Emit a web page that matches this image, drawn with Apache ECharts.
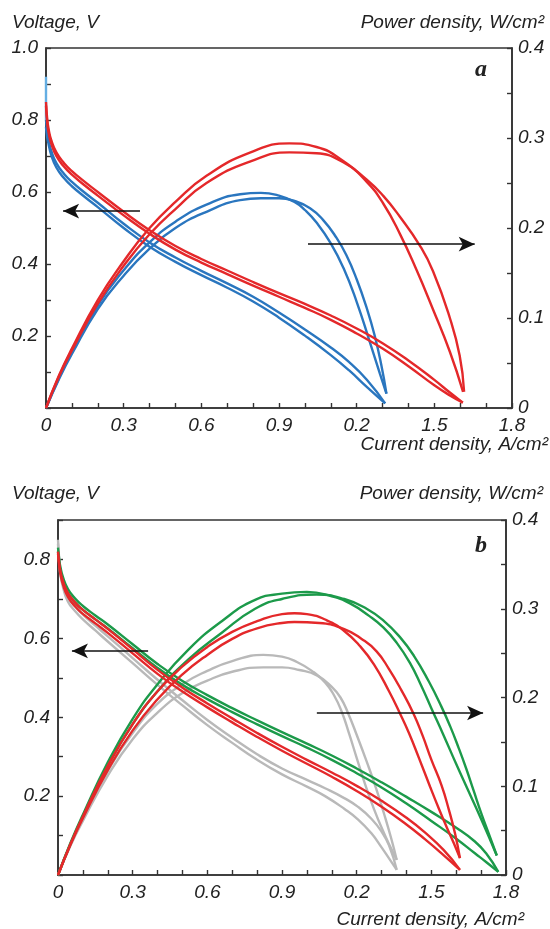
<!DOCTYPE html>
<html>
<head>
<meta charset="utf-8">
<script src="https://cdn.jsdelivr.net/npm/echarts@6/dist/echarts.min.js"></script>
<style>
  html, body { margin: 0; padding: 0; background: #fff; }
  #chart { width: 550px; height: 929px; }
</style>
</head>
<body>
<div id="chart"></div>
<script>
// x tick labels as printed on the figure (the 1.2 tick reads "0.2")
var xTickLabels = ['0', '0.3', '0.6', '0.9', '0.2', '1.5', '1.8'];

// ---- panel a : [current density, value] ----
var aBlueOcv = [[0,0.92],[0,0.8]];
var aBlueVolt1 = [[0,0.8],[0.005,0.765],[0.01,0.745],[0.02,0.715],[0.04,0.68],[0.07,0.65],[0.1,0.628],[0.15,0.598],[0.2,0.57],[0.3,0.512],[0.4,0.46],[0.5,0.418],[0.6,0.381],[0.7,0.346],[0.8,0.309],[0.9,0.265],[1.0,0.218],[1.1,0.168],[1.17,0.128],[1.24,0.078],[1.31,0.013]];
var aBlueVolt2 = [[0,0.78],[0.005,0.75],[0.01,0.733],[0.02,0.703],[0.04,0.668],[0.07,0.638],[0.1,0.616],[0.15,0.586],[0.2,0.558],[0.3,0.5],[0.4,0.448],[0.5,0.406],[0.6,0.369],[0.7,0.334],[0.8,0.296],[0.9,0.251],[1.0,0.201],[1.1,0.147],[1.17,0.105],[1.24,0.058],[1.31,0.013]];
var aRedVolt1 = [[0,0.85],[0.005,0.8],[0.01,0.775],[0.02,0.745],[0.04,0.71],[0.07,0.68],[0.1,0.658],[0.15,0.628],[0.2,0.6],[0.3,0.545],[0.4,0.494],[0.5,0.45],[0.6,0.414],[0.7,0.382],[0.8,0.35],[0.9,0.319],[1.0,0.289],[1.1,0.257],[1.2,0.221],[1.3,0.18],[1.4,0.132],[1.5,0.078],[1.56,0.043],[1.61,0.015]];
var aRedVolt2 = [[0,0.84],[0.005,0.79],[0.01,0.765],[0.02,0.735],[0.04,0.7],[0.07,0.67],[0.1,0.648],[0.15,0.618],[0.2,0.59],[0.3,0.535],[0.4,0.484],[0.5,0.44],[0.6,0.404],[0.7,0.372],[0.8,0.34],[0.9,0.309],[1.0,0.278],[1.1,0.245],[1.2,0.207],[1.3,0.165],[1.4,0.116],[1.5,0.063],[1.56,0.035],[1.61,0.015]];
var aBluePow1 = [[0,0],[0.05,0.033],[0.1,0.062],[0.2,0.114],[0.3,0.153],[0.4,0.184],[0.5,0.207],[0.62,0.226],[0.75,0.2375],[0.83,0.239],[0.9,0.236],[0.96,0.229],[1.0,0.22],[1.045,0.206],[1.1,0.183],[1.15,0.155],[1.2,0.118],[1.25,0.074],[1.29,0.038],[1.315,0.016]];
var aBluePow2 = [[0,0],[0.05,0.032],[0.1,0.06],[0.2,0.11],[0.3,0.147],[0.4,0.177],[0.5,0.2],[0.62,0.218],[0.75,0.231],[0.83,0.233],[0.9,0.233],[0.96,0.23],[1.02,0.222],[1.07,0.209],[1.12,0.19],[1.16,0.17],[1.2,0.143],[1.24,0.11],[1.27,0.08],[1.295,0.048],[1.315,0.016]];
var aRedPow1 = [[0,0],[0.05,0.036],[0.1,0.066],[0.2,0.12],[0.3,0.163],[0.4,0.2],[0.5,0.229],[0.62,0.258],[0.79,0.284],[0.94,0.294],[1.045,0.29],[1.148,0.2745],[1.238,0.2515],[1.302,0.2275],[1.367,0.1935],[1.431,0.1535],[1.495,0.1095],[1.56,0.0625],[1.611,0.018]];
var aRedPow2 = [[0,0],[0.05,0.035],[0.1,0.064],[0.2,0.116],[0.3,0.158],[0.4,0.193],[0.5,0.221],[0.62,0.25],[0.79,0.274],[0.94,0.284],[1.045,0.283],[1.148,0.273],[1.238,0.254],[1.302,0.236],[1.367,0.2125],[1.444,0.1805],[1.495,0.152],[1.56,0.1],[1.598,0.058],[1.615,0.018]];

// ---- panel b ----
var bGrayVolt1 = [[0,0.85],[0.005,0.8],[0.01,0.77],[0.02,0.74],[0.04,0.705],[0.07,0.68],[0.1,0.66],[0.15,0.632],[0.2,0.605],[0.3,0.55],[0.4,0.495],[0.5,0.443],[0.6,0.393],[0.7,0.348],[0.8,0.306],[0.9,0.27],[1.0,0.241],[1.073,0.22],[1.15,0.195],[1.207,0.172],[1.26,0.142],[1.3,0.11],[1.33,0.075],[1.361,0.013]];
var bGrayVolt2 = [[0,0.84],[0.005,0.79],[0.01,0.76],[0.02,0.73],[0.04,0.693],[0.07,0.668],[0.1,0.648],[0.15,0.62],[0.2,0.592],[0.3,0.537],[0.4,0.482],[0.5,0.43],[0.6,0.38],[0.7,0.335],[0.8,0.292],[0.9,0.255],[1.0,0.224],[1.073,0.2],[1.15,0.168],[1.207,0.14],[1.26,0.105],[1.3,0.07],[1.33,0.042],[1.361,0.013]];
var bGreenVolt1 = [[0,0.83],[0.005,0.8],[0.01,0.78],[0.02,0.755],[0.04,0.725],[0.07,0.7],[0.1,0.682],[0.15,0.658],[0.2,0.635],[0.3,0.585],[0.4,0.535],[0.5,0.492],[0.6,0.456],[0.7,0.423],[0.8,0.392],[0.9,0.362],[1.0,0.333],[1.1,0.303],[1.2,0.27],[1.3,0.235],[1.4,0.198],[1.5,0.16],[1.6,0.12],[1.675,0.085],[1.72,0.055],[1.769,0.008]];
var bGreenVolt2 = [[0,0.82],[0.005,0.79],[0.01,0.77],[0.02,0.745],[0.04,0.715],[0.07,0.69],[0.1,0.672],[0.15,0.648],[0.2,0.625],[0.3,0.575],[0.4,0.525],[0.5,0.482],[0.6,0.446],[0.7,0.413],[0.8,0.382],[0.9,0.352],[1.0,0.323],[1.1,0.292],[1.2,0.258],[1.3,0.222],[1.4,0.181],[1.5,0.137],[1.6,0.092],[1.675,0.055],[1.72,0.033],[1.769,0.008]];
var bRedVolt1 = [[0,0.82],[0.005,0.79],[0.01,0.77],[0.02,0.745],[0.04,0.715],[0.07,0.69],[0.1,0.672],[0.15,0.648],[0.2,0.624],[0.3,0.572],[0.4,0.52],[0.5,0.475],[0.6,0.435],[0.7,0.397],[0.8,0.36],[0.9,0.325],[1.0,0.292],[1.1,0.26],[1.2,0.226],[1.3,0.188],[1.4,0.145],[1.474,0.108],[1.55,0.063],[1.615,0.013]];
var bRedVolt2 = [[0,0.815],[0.005,0.782],[0.01,0.762],[0.02,0.736],[0.04,0.705],[0.07,0.68],[0.1,0.662],[0.15,0.638],[0.2,0.614],[0.3,0.562],[0.4,0.51],[0.5,0.465],[0.6,0.425],[0.7,0.387],[0.8,0.35],[0.9,0.315],[1.0,0.282],[1.1,0.249],[1.2,0.213],[1.3,0.173],[1.4,0.128],[1.474,0.091],[1.55,0.05],[1.615,0.013]];
var bGrayPow1 = [[0,0],[0.05,0.034],[0.1,0.063],[0.2,0.117],[0.3,0.16],[0.4,0.193],[0.5,0.215],[0.6,0.23],[0.7,0.241],[0.825,0.248],[0.9,0.246],[0.96,0.24],[1.02,0.23],[1.073,0.217],[1.11,0.202],[1.14,0.184],[1.17,0.159],[1.2,0.132],[1.233,0.103],[1.27,0.074],[1.31,0.047],[1.34,0.029],[1.361,0.017]];
var bGrayPow2 = [[0,0],[0.05,0.033],[0.1,0.061],[0.2,0.112],[0.3,0.153],[0.4,0.183],[0.5,0.205],[0.6,0.219],[0.7,0.229],[0.825,0.234],[0.9,0.234],[0.97,0.231],[1.04,0.225],[1.1,0.212],[1.135,0.2],[1.166,0.182],[1.2,0.158],[1.24,0.128],[1.28,0.096],[1.31,0.069],[1.34,0.04],[1.361,0.017]];
var bGreenPow1 = [[0,0],[0.05,0.036],[0.1,0.068],[0.2,0.127],[0.3,0.176],[0.4,0.215],[0.524,0.254],[0.658,0.286],[0.792,0.31],[0.9,0.317],[1.0,0.319],[1.1,0.314],[1.173,0.306],[1.25,0.292],[1.307,0.279],[1.36,0.262],[1.414,0.239],[1.46,0.213],[1.5,0.188],[1.55,0.157],[1.6,0.125],[1.65,0.094],[1.7,0.063],[1.763,0.022]];
var bGreenPow2 = [[0,0],[0.05,0.035],[0.1,0.066],[0.2,0.123],[0.3,0.17],[0.4,0.207],[0.524,0.243],[0.658,0.273],[0.792,0.3],[0.9,0.311],[1.039,0.316],[1.15,0.311],[1.24,0.3],[1.31,0.286],[1.374,0.268],[1.43,0.247],[1.49,0.218],[1.54,0.19],[1.575,0.168],[1.61,0.143],[1.64,0.12],[1.67,0.095],[1.7,0.07],[1.73,0.047],[1.763,0.022]];
var bRedPow1 = [[0,0],[0.05,0.035],[0.1,0.066],[0.2,0.123],[0.3,0.17],[0.4,0.207],[0.5,0.235],[0.6,0.257],[0.7,0.274],[0.8,0.286],[0.9,0.294],[0.95,0.295],[1.0,0.294],[1.08,0.287],[1.15,0.275],[1.213,0.258],[1.27,0.237],[1.33,0.207],[1.374,0.182],[1.41,0.16],[1.45,0.132],[1.495,0.0995],[1.53,0.075],[1.56,0.055],[1.59,0.036],[1.615,0.019]];
var bRedPow2 = [[0,0],[0.05,0.034],[0.1,0.064],[0.2,0.118],[0.3,0.163],[0.4,0.198],[0.5,0.226],[0.6,0.248],[0.7,0.266],[0.8,0.278],[0.9,0.284],[0.95,0.285],[1.05,0.284],[1.15,0.277],[1.22,0.266],[1.28,0.252],[1.33,0.232],[1.38,0.208],[1.428,0.182],[1.465,0.157],[1.5,0.13],[1.541,0.101],[1.57,0.074],[1.595,0.047],[1.615,0.019]];

// arrows (start, end) in data coords
var aArrowVolt = [[0.363, 0.547], [0.066, 0.547]];
var aArrowPow = [[1.012, 0.182], [1.656, 0.182]];
var bArrowVolt = [[0.362, 0.568], [0.056, 0.568]];
var bArrowPow = [[1.04, 0.1825], [1.708, 0.1825]];

var RED = '#e4282a', BLUE = '#2a76bf', LIGHTBLUE = '#64aee3', GREEN = '#1c9a4a', GRAY = '#b9b9b9';
var FONT = '"Liberation Sans", Arial, sans-serif';

var chart = echarts.init(document.getElementById('chart'));

function curve(data, color, xi, yi, extra) {
    var s = {
        type: 'line',
        data: data,
        xAxisIndex: xi,
        yAxisIndex: yi,
        showSymbol: false,
        smooth: 0.5,
        lineStyle: {color: color, width: 2.4},
        silent: true
    };
    if (extra) s.markLine = extra;
    return s;
}

function arrow(pts) {
    return {
        silent: true,
        symbol: ['none', 'arrow'],
        symbolSize: [11, 16],
        label: {show: false},
        lineStyle: {color: '#111', width: 1.5, type: 'solid'},
        data: [[{coord: pts[0]}, {coord: pts[1]}]]
    };
}

var tickLabel = {fontSize: 19, fontStyle: 'italic', color: '#222', fontFamily: FONT};
var axisLine = {show: true, lineStyle: {color: '#333', width: 1.6}};
var tick = {show: true, inside: true, length: 5, lineStyle: {color: '#333', width: 1.4}};

function xAxis(gi) {
    return {
        type: 'value', gridIndex: gi, min: 0, max: 1.8, interval: 0.1,
        axisLine: axisLine, axisTick: tick, splitLine: {show: false},
        axisLabel: Object.assign({}, tickLabel, {
            margin: 8, interval: 0, showMinLabel: true, showMaxLabel: true,
            formatter: function (v) {
                var k = Math.round(v * 10);
                return k % 3 === 0 ? xTickLabels[k / 3] : '';
            }
        })
    };
}

function voltAxis(gi, max) {
    return {
        type: 'value', gridIndex: gi, min: 0, max: max, interval: 0.1, position: 'left',
        axisLine: axisLine, axisTick: tick, splitLine: {show: false},
        axisLabel: Object.assign({}, tickLabel, {
            margin: 8, showMinLabel: true, showMaxLabel: true,
            formatter: function (v) {
                var k = Math.round(v * 10);
                return (k > 0 && k % 2 === 0) ? (k / 10).toFixed(1) : '';
            }
        })
    };
}

function powAxis(gi) {
    return {
        type: 'value', gridIndex: gi, min: 0, max: 0.4, interval: 0.05, position: 'right',
        axisLine: axisLine, axisTick: tick, splitLine: {show: false},
        axisLabel: Object.assign({}, tickLabel, {
            margin: 6, showMinLabel: true, showMaxLabel: true,
            formatter: function (v) {
                var k = Math.round(v * 100);
                if (k % 10 !== 0) return '';
                return k === 0 ? '0' : (k / 100).toFixed(1);
            }
        })
    };
}

function label(text, pos, size, family, weight) {
    return Object.assign({
        text: text, padding: 0,
        textStyle: {fontSize: size || 19, fontStyle: 'italic', fontWeight: weight || 'normal',
            color: '#222', fontFamily: family || FONT}
    }, pos);
}

var option = {
    animation: false,
    backgroundColor: '#fff',
    title: [
        label('Voltage, V', {left: 12, top: 13}),
        label('Power density, W/cm²', {right: 6, top: 13}),
        label('Current density, A/cm²', {right: 2, top: 435}),
        label('a', {left: 475, top: 58}, 24, '"Liberation Serif", serif', 'bold'),
        label('Voltage, V', {left: 12, top: 484}),
        label('Power density, W/cm²', {right: 7, top: 484}),
        label('Current density, A/cm²', {right: 26, top: 910}),
        label('b', {left: 475, top: 534}, 24, '"Liberation Serif", serif', 'bold')
    ],
    grid: [
        {left: 46, top: 48, width: 466, height: 360, show: true, borderColor: '#333', borderWidth: 1.6, backgroundColor: 'transparent'},
        {left: 58, top: 520, width: 448, height: 355, show: true, borderColor: '#333', borderWidth: 1.6, backgroundColor: 'transparent'}
    ],
    xAxis: [xAxis(0), xAxis(1)],
    yAxis: [voltAxis(0, 1.0), powAxis(0), voltAxis(1, 0.9), powAxis(1)],
    series: [
        curve(aBlueOcv, LIGHTBLUE, 0, 0),
        curve(aBlueVolt1, BLUE, 0, 0),
        curve(aBlueVolt2, BLUE, 0, 0),
        curve(aBluePow1, BLUE, 0, 1),
        curve(aBluePow2, BLUE, 0, 1),
        curve(aRedVolt1, RED, 0, 0, arrow(aArrowVolt)),
        curve(aRedVolt2, RED, 0, 0),
        curve(aRedPow1, RED, 0, 1, arrow(aArrowPow)),
        curve(aRedPow2, RED, 0, 1),

        curve(bGrayVolt1, GRAY, 1, 2),
        curve(bGrayVolt2, GRAY, 1, 2),
        curve(bGrayPow1, GRAY, 1, 3),
        curve(bGrayPow2, GRAY, 1, 3),
        curve(bGreenVolt1, GREEN, 1, 2),
        curve(bGreenVolt2, GREEN, 1, 2),
        curve(bGreenPow1, GREEN, 1, 3),
        curve(bGreenPow2, GREEN, 1, 3),
        curve(bRedVolt1, RED, 1, 2, arrow(bArrowVolt)),
        curve(bRedVolt2, RED, 1, 2),
        curve(bRedPow1, RED, 1, 3, arrow(bArrowPow)),
        curve(bRedPow2, RED, 1, 3)
    ]
};

chart.setOption(option);
</script>
</body>
</html>
